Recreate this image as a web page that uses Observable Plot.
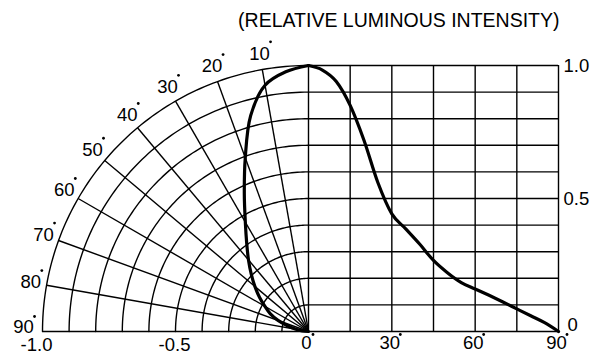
<!DOCTYPE html>
<html><head><meta charset="utf-8">
<script src="https://cdn.jsdelivr.net/npm/d3@7"></script>
<script src="https://cdn.jsdelivr.net/npm/@observablehq/plot@0.6"></script>
<style>
body{margin:0;background:#fff}
#chart svg{display:block;font-family:"Liberation Sans",Arial,Helvetica,sans-serif}
</style>
</head><body><div id="chart"></div>
<script>
// ---- data ----
const angles = [0, 5, 10, 15, 20, 25, 30, 35, 40, 45, 50, 55, 60, 65, 70, 75, 80, 85, 90];
// right half: intensity vs angle (cartesian)
const intensity = [1.0, 0.983, 0.94, 0.85, 0.718, 0.559, 0.442, 0.386, 0.329, 0.267, 0.221, 0.184, 0.16, 0.136, 0.111, 0.085, 0.059, 0.033, 0.0];
// left half: the same pattern as drawn on the polar grid
const polarIntensity = [1.0, 0.98, 0.94, 0.84, 0.695, 0.571, 0.475, 0.405, 0.351, 0.304, 0.263, 0.225, 0.189, 0.159, 0.122, 0.08, 0.048, 0.024, 0.0];

const polarAngleTicks = [10, 20, 30, 40, 50, 60, 70, 80, 90];
const polarRadii      = [0.1, 0.2, 0.3, 0.4, 0.5, 0.6, 0.7, 0.8, 0.9, 1.0];
const rightAngleTicks = [0, 15, 30, 45, 60, 75, 90];
const rightLevels     = [0, 0.1, 0.2, 0.3, 0.4, 0.5, 0.6, 0.7, 0.8, 0.9, 1.0];

const bottomPolarValues = [-1.0, -0.5];
const bottomPolarLabels = ["-1.0", "-0.5"];
const bottomAngleValues = [0, 30, 60, 90];
const bottomAngleLabels = ["0", "30", "60", "90"];
const rightTickValues   = [1.0, 0.5, 0];
const rightTickLabels   = ["1.0", "0.5", "0"];
const title = "(RELATIVE LUMINOUS INTENSITY)";

// ---- layout helpers ----
const rightSpan = 250 / 266;            // width of the angle grid relative to the polar radius
const rad = d => d * Math.PI / 180;
const xr = deg => deg / 90 * rightSpan;  // angle (deg) -> shared x units on the right half
const px = (r, deg) => -r * Math.sin(rad(deg));
const py = (r, deg) => r * Math.cos(rad(deg));

const arcPts = [];
for (const r of polarRadii) for (let a = 0; a <= 90; a += 1) arcPts.push({r, x: px(r, a), y: py(r, a)});

const rightCurve = angles.map((a, i) => ({x: xr(a), y: intensity[i]}));
const polarCurve = angles.map((a, i) => ({x: px(polarIntensity[i], a), y: py(polarIntensity[i], a)}));

const labelR = 1.06;
const arcLabels = polarAngleTicks.map(a => ({a, x: px(labelR, a), y: py(labelR, a)}));
const arcLabelsMain = arcLabels.slice(0, -1);
const arcLabelLast = arcLabels.slice(-1);

const FS = 18.5;
const ink = "#000";
const gridW = 1.4, curveW = 3.2;

const chart = Plot.plot({
  width: 605,
  height: 356,
  marginLeft: 42,
  marginRight: 47,
  marginTop: 65,
  marginBottom: 25,
  x: {domain: [-1, rightSpan], axis: null},
  y: {domain: [0, 1], axis: null},
  style: {fontFamily: '"Liberation Sans", Arial, sans-serif', background: "#fff", overflow: "visible"},
  marks: [
    // polar grid
    Plot.line(arcPts, {x: "x", y: "y", z: "r", stroke: ink, strokeWidth: gridW}),
    Plot.link(polarAngleTicks, {x1: 0, y1: 0, x2: a => px(1, a), y2: a => py(1, a), stroke: ink, strokeWidth: gridW}),
    // right cartesian grid
    Plot.ruleX(rightAngleTicks, {x: a => xr(a), y1: 0, y2: 1, stroke: ink, strokeWidth: gridW}),
    Plot.ruleY(rightLevels, {y: d => d, x1: 0, x2: rightSpan, stroke: ink, strokeWidth: gridW}),
    // intensity curves
    Plot.line(rightCurve, {x: "x", y: "y", curve: "monotone-x", stroke: ink, strokeWidth: curveW, strokeLinejoin: "round", strokeLinecap: "round"}),
    Plot.line(polarCurve, {x: "x", y: "y", curve: "catmull-rom", stroke: ink, strokeWidth: curveW, strokeLinejoin: "round", strokeLinecap: "round"}),
    // polar angle labels with degree dots
    Plot.text(arcLabelsMain, {x: "x", y: "y", text: d => String(d.a), fontSize: FS, fill: ink, textAnchor: "middle", lineAnchor: "middle"}),
    Plot.dot(arcLabelsMain, {x: "x", y: "y", dx: 11, dy: -12, r: 1.4, fill: ink, stroke: "none"}),
    Plot.text(arcLabelLast, {x: "x", y: "y", text: d => String(d.a), dx: -3, dy: -4, fontSize: FS, fill: ink, textAnchor: "middle", lineAnchor: "middle"}),
    Plot.dot(arcLabelLast, {x: "x", y: "y", dx: 8, dy: -15, r: 1.4, fill: ink, stroke: "none"}),
    // bottom labels
    Plot.text([bottomPolarLabels[0]], {x: () => bottomPolarValues[0], y: 0, text: d => d, dx: -6, dy: 14, fontSize: FS, fill: ink, lineAnchor: "middle"}),
    Plot.text([bottomPolarLabels[1]], {x: () => bottomPolarValues[1], y: 0, text: d => d, dx: -1, dy: 14, fontSize: FS, fill: ink, lineAnchor: "middle"}),
    Plot.text(bottomAngleValues, {x: a => xr(a), y: 0, text: (a, i) => bottomAngleLabels[i], dx: -2, dy: 12, fontSize: FS, fill: ink, lineAnchor: "middle"}),
    Plot.dot([bottomAngleValues[0]], {x: a => xr(a), y: 0, dx: 4.5, dy: 3, r: 1.4, fill: ink, stroke: "none"}),
    Plot.dot(bottomAngleValues.slice(1), {x: a => xr(a), y: 0, dx: 8.5, dy: 3, r: 1.4, fill: ink, stroke: "none"}),
    // right labels
    Plot.text(rightTickValues.slice(0, 2), {x: () => rightSpan, y: d => d, text: (d, i) => rightTickLabels[i], dx: 5, dy: 1, textAnchor: "start", lineAnchor: "middle", fontSize: FS, fill: ink}),
    Plot.text([rightTickValues[2]], {x: () => rightSpan, y: d => d, text: () => rightTickLabels[2], dx: 9, dy: -6, textAnchor: "start", lineAnchor: "middle", fontSize: FS, fill: ink}),
    // title
    Plot.text([title], {frameAnchor: "top-right", text: d => d, dx: 1, dy: -45, textAnchor: "end", lineAnchor: "middle", fontSize: 19.5, fill: ink})
  ]
});
document.getElementById("chart").appendChild(chart);
</script>
</body></html>
